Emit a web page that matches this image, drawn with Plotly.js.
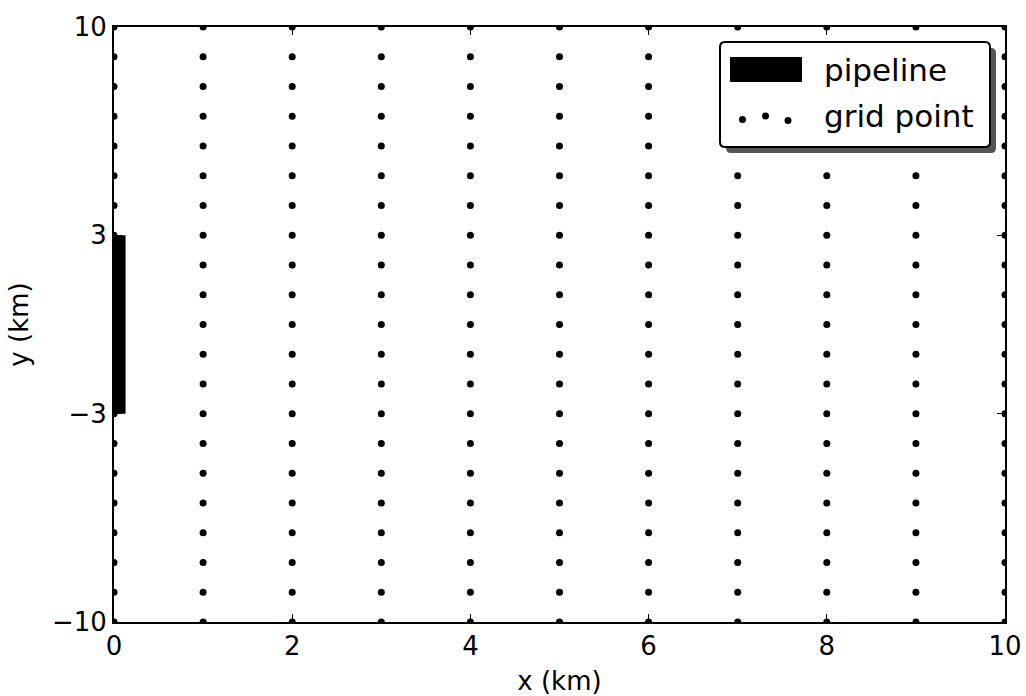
<!DOCTYPE html>
<html>
<head>
<meta charset="utf-8">
<script src="https://cdn.plot.ly/plotly-3.0.1.min.js"></script>
<style>html,body{margin:0;padding:0;background:#fff;}#chart{width:1026px;height:696px;}</style>
</head>
<body>
<div id="chart"></div>
<script>
// ---- data ----
var gridX = [0, 1, 2, 3, 4, 5, 6, 7, 8, 9, 10];
var gridY = [-10, -9, -8, -7, -6, -5, -4, -3, -2, -1, 0, 1, 2, 3, 4, 5, 6, 7, 8, 9, 10];
var pipelineX = [0, 0.13];
var pipelineY = [-3, 3];
var xTickVals = [0, 2, 4, 6, 8, 10];
var xTickText = ['0', '2', '4', '6', '8', '10'];
var yTickVals = [-10, -3, 3, 10];
var yTickText = ['\u221210', '\u22123', '3', '10'];
var seriesNames = ['pipeline', 'grid point'];

// ---- build traces ----
var px = [], py = [];
gridX.forEach(function (x) { gridY.forEach(function (y) { px.push(x); py.push(y); }); });

var gridTrace = {
  type: 'scatter', mode: 'markers', x: px, y: py, name: seriesNames[1],
  marker: { color: '#000', size: 7 }, cliponaxis: true, showlegend: false, hoverinfo: 'skip'
};
var pipeTrace = {
  type: 'scatter', mode: 'lines', name: seriesNames[0],
  x: [pipelineX[0], pipelineX[1], pipelineX[1], pipelineX[0], pipelineX[0]],
  y: [pipelineY[0], pipelineY[0], pipelineY[1], pipelineY[1], pipelineY[0]],
  fill: 'toself', fillcolor: '#000', line: { width: 0, color: '#000' }, showlegend: false, hoverinfo: 'skip'
};

// ---- layout helpers (pixel -> paper) ----
var L = 114, R = 1005, T = 27, B = 622;
function fx(p) { return (p - L) / (R - L); }
function fy(p) { return (B - p) / (B - T); }
function roundRect(x0, y0, x1, y1, r) {
  var rx = r / (R - L), ry = r / (B - T);
  var a = fx(x0), b = fx(x1), t = fy(y0), u = fy(y1);
  return 'M' + (a + rx) + ',' + t + ' L' + (b - rx) + ',' + t + ' Q' + b + ',' + t + ' ' + b + ',' + (t - ry) +
    ' L' + b + ',' + (u + ry) + ' Q' + b + ',' + u + ' ' + (b - rx) + ',' + u +
    ' L' + (a + rx) + ',' + u + ' Q' + a + ',' + u + ' ' + a + ',' + (u + ry) +
    ' L' + a + ',' + (t - ry) + ' Q' + a + ',' + t + ' ' + (a + rx) + ',' + t + ' Z';
}
function dot(cx, cy) {
  return { type: 'circle', xref: 'paper', yref: 'paper', xsizemode: 'pixel', ysizemode: 'pixel',
    xanchor: fx(cx), yanchor: fy(cy), x0: -3.5, x1: 3.5, y0: -3.5, y1: 3.5,
    fillcolor: '#000', line: { width: 0 }, layer: 'above' };
}

var family = 'DejaVu Sans, Verdana, sans-serif';
var font = { family: family, size: 26, color: '#000' };
var legFont = { family: family, size: 31, color: '#000' };
var axisCommon = {
  showgrid: false, zeroline: false, showline: true, linecolor: '#000', linewidth: 2,
  mirror: 'ticks', ticks: 'inside', ticklen: 8, tickwidth: 1.3, tickcolor: '#000',
  tickfont: font, tickmode: 'array', automargin: false, fixedrange: true
};

var layout = {
  width: 1026, height: 696,
  margin: { l: L, r: 1026 - R, t: T, b: 696 - B },
  paper_bgcolor: '#fff', plot_bgcolor: '#fff',
  showlegend: false, font: font,
  xaxis: Object.assign({}, axisCommon, {
    range: [0, 10], tickvals: xTickVals, ticktext: xTickText,
    title: { text: 'x (km)', font: font, standoff: 14 }
  }),
  yaxis: Object.assign({}, axisCommon, {
    range: [-10, 10], tickvals: yTickVals, ticktext: yTickText,
    title: { text: 'y (km)', font: font, standoff: 16 }
  }),
  shapes: [
    { type: 'path', xref: 'paper', yref: 'paper', path: roundRect(726, 48, 996, 153, 5),
      fillcolor: '#555', line: { width: 0 }, layer: 'above' },
    { type: 'path', xref: 'paper', yref: 'paper', path: roundRect(720, 42, 990, 147, 5),
      fillcolor: '#fff', line: { width: 2, color: '#000' }, layer: 'above' },
    { type: 'rect', xref: 'paper', yref: 'paper', x0: fx(730), x1: fx(802), y0: fy(57), y1: fy(82),
      fillcolor: '#000', line: { width: 0 }, layer: 'above' },
    dot(742.5, 119.5), dot(765.5, 116), dot(788, 120.5)
  ],
  annotations: [
    { xref: 'paper', yref: 'paper', x: fx(822), y: fy(70), xanchor: 'left', yanchor: 'middle',
      text: seriesNames[0], showarrow: false, font: legFont },
    { xref: 'paper', yref: 'paper', x: fx(822), y: fy(116), xanchor: 'left', yanchor: 'middle',
      text: seriesNames[1], showarrow: false, font: legFont }
  ]
};

Plotly.newPlot('chart', [gridTrace, pipeTrace], layout, { staticPlot: true, displayModeBar: false });
</script>
</body>
</html>
